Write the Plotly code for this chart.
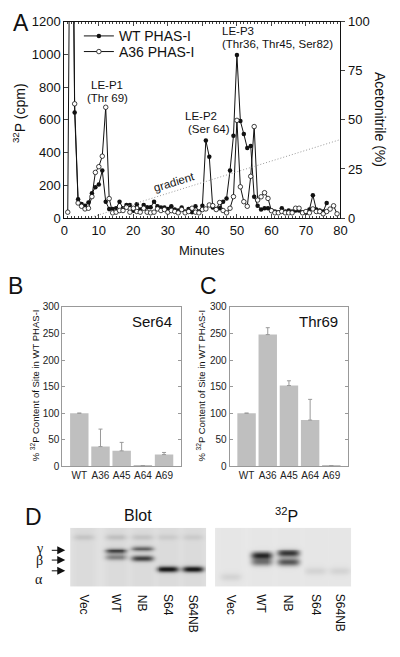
import numpy as np
import plotly.graph_objects as go

W, H = 400, 657
def px(x): return x / W
def py(y): return 1 - y / H

FONT = "Liberation Sans, Arial, sans-serif"

# ---------------- Panel A data ----------------
wt_minutes = list(range(2, 77))
wt_cpm = [3000, 645, 115, 86, 76, 95, 151, 189, 205, 290, 100, 56, 56, 60, 100, 60, 80, 80, 45, 84,
          52, 80, 66, 66, 100, 72, 64, 64, 56, 72, 52, 46, 64, 40, 56, 36, 72, 40, 76, 474,
          374, 65, 55, 60, 100, 120, 290, 503, 997, 593, 513, 428, 440, 131, 76, 52, 60, 60, 46, 40,
          36, 60, 40, 46, 40, 46, 46, 36, 32, 52, 140, 52, 46, 40, 92]
a36_minutes = list(range(1, 80))
a36_cpm = [36, 3000, 698, 92, 72, 56, 60, 131, 279, 314, 378, 677, 119, 32, 36, 46, 46, 66, 36, 60,
           40, 36, 60, 36, 32, 36, 56, 46, 52, 36, 46, 40, 32, 52, 32, 40, 60, 36, 32, 52,
           56, 80, 76, 52, 95, 46, 32, 60, 131, 597, 191, 100, 72, 255, 559, 110, 130, 155, 120, 45,
           32, 32, 40, 32, 32, 32, 60, 60, 32, 40, 32, 56, 40, 40, 26, 40, 55, 75, 26]
gradient_minutes = [7, 80]
gradient_pct = [0, 40]

# ---------------- Panels B / C data ----------------
mutants = ["WT", "A36", "A45", "A64", "A69"]
ser64_pct = [100, 37, 29, 1, 22]
ser64_err = [0, 33, 16, 0, 4]
thr69_pct = [100, 248, 152, 87, 1]
thr69_err = [0, 13, 9, 39, 0]

# ---------------- Panel D data ----------------
lanes = ["Vec", "WT", "NB", "S64", "S64NB"]
blot_lane = [0, 1, 2, 3, 4, 1, 1, 2, 2, 3, 4]
blot_mig = [0.15, 0.15, 0.15, 0.15, 0.15, 0.39, 0.50, 0.35, 0.52, 0.70, 0.70]
blot_int = [0.10, 0.12, 0.10, 0.07, 0.07, 0.70, 0.40, 0.55, 0.70, 0.92, 0.92]
p32_lane = [1, 1, 2, 2, 0, 3, 4]
p32_mig = [0.47, 0.58, 0.43, 0.58, 0.83, 0.73, 0.73]
p32_int = [0.85, 0.50, 0.80, 0.65, 0.08, 0.08, 0.08]

# lane centres (layout)
BLOT_X = [0.5, 1.68, 2.64, 3.57, 4.5]
P32_X = [0.57, 1.71, 2.68, 3.68, 4.57]

fig = go.Figure()

# Panel A traces
fig.add_trace(go.Scatter(x=wt_minutes, y=wt_cpm, mode="lines+markers", name="WT PHAS-I",
                         line=dict(color="#111", width=1),
                         marker=dict(symbol="circle", size=4.5, color="#111"),
                         xaxis="x", yaxis="y", legend="legend"))
fig.add_trace(go.Scatter(x=a36_minutes, y=a36_cpm, mode="lines+markers", name="A36 PHAS-I",
                         line=dict(color="#111", width=1),
                         marker=dict(symbol="circle", size=4.5, color="white",
                                     line=dict(color="#111", width=0.8)),
                         xaxis="x", yaxis="y", legend="legend2"))
fig.add_trace(go.Scatter(x=gradient_minutes, y=gradient_pct, mode="lines", showlegend=False,
                         line=dict(color="#999", width=1, dash="1px,2px"),
                         xaxis="x", yaxis="y2"))

# Panel B / C bars
fig.add_trace(go.Bar(x=mutants, y=ser64_pct, marker=dict(color="#bfbfbf", line=dict(width=0)),
                     width=0.87, showlegend=False,
                     error_y=dict(type="data", symmetric=False, array=ser64_err,
                                  arrayminus=[0] * 5, color="#999", thickness=1, width=2),
                     xaxis="x3", yaxis="y3"))
fig.add_trace(go.Bar(x=mutants, y=thr69_pct, marker=dict(color="#bfbfbf", line=dict(width=0)),
                     width=0.87, showlegend=False,
                     error_y=dict(type="data", symmetric=False, array=thr69_err,
                                  arrayminus=[0] * 5, color="#999", thickness=1, width=2),
                     xaxis="x4", yaxis="y4"))

# Panel D gels rendered from band lists
gx = np.linspace(0, 5, 141)
gy = np.linspace(0, 1, 61)
GX, GY = np.meshgrid(gx, gy)

def gel(lane_idx, mig, inten, centres, bg, streak, sig):
    z = np.full(GX.shape, bg)
    for c in centres:
        z += streak * np.exp(-((GX - c) / 0.42) ** 4)
    for li, m, it in zip(lane_idx, mig, inten):
        c = centres[li]
        z += it * np.exp(-((GX - c) / 0.4) ** 4) * np.exp(-0.5 * ((GY - m) / sig) ** 2)
    return np.clip(z, 0, 1)

gray = [[0, "rgb(245,245,245)"], [1, "rgb(25,25,25)"]]
fig.add_trace(go.Heatmap(x=gx, y=gy, z=gel(blot_lane, blot_mig, blot_int, BLOT_X, 0.09, 0.03, 0.035),
                         colorscale=gray, zmin=0, zmax=1, showscale=False, zsmooth="best",
                         hoverinfo="skip", xaxis="x5", yaxis="y5"))
fig.add_trace(go.Heatmap(x=gx, y=gy, z=gel(p32_lane, p32_mig, p32_int, P32_X, 0.06, 0.01, 0.045),
                         colorscale=gray, zmin=0, zmax=1, showscale=False, zsmooth="best",
                         hoverinfo="skip", xaxis="x6", yaxis="y6"))

tickfont = dict(family=FONT, size=13, color="#111")
small = dict(family=FONT, size=10, color="#222")
legfont = dict(family=FONT, size=14, color="#111")

layout = dict(
    width=W, height=H, margin=dict(l=0, r=0, t=0, b=0),
    paper_bgcolor="white", plot_bgcolor="rgba(0,0,0,0)",
    font=dict(family=FONT, color="#111"),
    showlegend=True,
    legend=dict(x=px(77), y=py(30), xanchor="left", yanchor="middle", font=legfont,
                bgcolor="rgba(0,0,0,0)", itemwidth=30),
    legend2=dict(x=px(77), y=py(46), xanchor="left", yanchor="middle", font=legfont,
                 bgcolor="rgba(0,0,0,0)", itemwidth=30),
    xaxis=dict(domain=[px(62), px(346)], range=[0, 80], dtick=10, ticks="inside", ticklen=4,
               minor=dict(dtick=1, ticks="inside", ticklen=2), showline=True, linecolor="#111",
               mirror="ticks", tickfont=tickfont, showgrid=False, zeroline=False, anchor="y"),
    yaxis=dict(domain=[py(216), py(15)], range=[0, 1200], dtick=200, ticks="inside", ticklen=4,
               showline=True, linecolor="#111", tickfont=tickfont, showgrid=False, zeroline=False,
               anchor="x"),
    yaxis2=dict(domain=[py(216), py(15)], range=[0, 100], dtick=25, ticks="outside", ticklen=4,
                overlaying="y", side="right", anchor="x", showline=True, linecolor="#111",
                tickfont=tickfont, showgrid=False, zeroline=False),
    xaxis3=dict(domain=[px(60), px(182)], range=[-0.8, 4.8], anchor="y3", showline=True,
                linecolor="#999", mirror=True, ticks="", tickfont=small, showgrid=False),
    yaxis3=dict(domain=[py(470), py(307)], range=[0, 300], dtick=50, anchor="x3", showline=True,
                linecolor="#999", mirror="ticks", ticks="inside", ticklen=3, tickcolor="#999",
                tickfont=small, showgrid=False, zeroline=False),
    xaxis4=dict(domain=[px(232), px(354)], range=[-0.8, 4.8], anchor="y4", showline=True,
                linecolor="#999", mirror=True, ticks="", tickfont=small, showgrid=False),
    yaxis4=dict(domain=[py(470), py(307)], range=[0, 300], dtick=50, anchor="x4", showline=True,
                linecolor="#999", mirror="ticks", ticks="inside", ticklen=3, tickcolor="#999",
                tickfont=small, showgrid=False, zeroline=False),
    xaxis5=dict(domain=[px(68), px(208)], range=[0, 5], visible=False, anchor="y5"),
    yaxis5=dict(domain=[py(593), py(533)], range=[1, 0], visible=False, anchor="x5"),
    xaxis6=dict(domain=[px(217), px(357)], range=[0, 5], visible=False, anchor="y6"),
    yaxis6=dict(domain=[py(593), py(533)], range=[1, 0], visible=False, anchor="x6"),
)
fig.update_layout(**layout)

ann = []
def txt(x, y, s, size=12, xanchor="center", yanchor="middle", angle=0, family=FONT, xref="paper"):
    ann.append(dict(x=x, y=y, xref=xref, yref="paper", text=s, showarrow=False,
                    xanchor=xanchor, yanchor=yanchor, textangle=angle,
                    font=dict(family=family, size=size, color="#111")))

# panel letters
txt(px(17), py(16), "A", 23)
txt(px(12), py(286), "B", 23)
txt(px(210), py(286), "C", 23)
txt(px(30), py(522), "D", 23)

# panel A texts
txt(px(15), py(109), "<sup>32</sup>P (cpm)", 14, angle=-90)
txt(px(386), py(115), "Acetonitrile (%)", 14, angle=90)
txt(px(204), py(249), "Minutes", 13)
txt(px(106), py(80), "LE-P1", 11.5)
txt(px(106), py(93), "(Thr 69)", 11.5)
txt(px(184), py(112), "LE-P2", 11.5, xanchor="left")
txt(px(187), py(125), "(Ser 64)", 11.5, xanchor="left")
txt(px(222), py(25), "LE-P3", 11.5, xanchor="left")
txt(px(222), py(38), "(Thr36, Thr45, Ser82)", 11.5, xanchor="left")
txt(px(175), py(179), "gradient", 11.5, angle=-17)

# panels B / C texts
txt(px(175), py(322), "Ser64", 15, xanchor="right")
txt(px(346), py(322), "Thr69", 15, xanchor="right")
txt(px(32), py(387), "% <sup>32</sup>P Content of Site in WT PHAS-I", 9.5, angle=-90)
txt(px(203), py(387), "% <sup>32</sup>P Content of Site in WT PHAS-I", 9.5, angle=-90)

# panel D texts
txt(px(138), py(520), "Blot", 16)
txt(px(290), py(520), "<sup>32</sup>P", 16)
for name, xc in zip(lanes, BLOT_X):
    ann.append(dict(x=xc, y=py(599), xref="x5", yref="paper", text=name, showarrow=False,
                    xanchor="center", yanchor="top", textangle=90,
                    font=dict(family=FONT, size=12, color="#111")))
for name, xc in zip(lanes, P32_X):
    ann.append(dict(x=xc, y=py(599), xref="x6", yref="paper", text=name, showarrow=False,
                    xanchor="center", yanchor="top", textangle=90,
                    font=dict(family=FONT, size=12, color="#111")))
SERIF = "Liberation Serif, Times New Roman, serif"
txt(px(36), py(554), "γ", 14, family=SERIF)
txt(px(36), py(566), "β", 14, family=SERIF)
txt(px(36), py(586), "α", 14, family=SERIF)
for yy in [556, 566, 577]:
    ann.append(dict(x=px(63), y=py(yy), xref="paper", yref="paper", ax=-15, ay=0, text="",
                    showarrow=True, arrowhead=2, arrowsize=1.6, arrowwidth=1, arrowcolor="#111"))

fig.update_layout(annotations=ann)
fig.write_html("out.html", config={"displayModeBar": False},
               post_script="document.body.style.margin='0';document.body.style.padding='0';")
